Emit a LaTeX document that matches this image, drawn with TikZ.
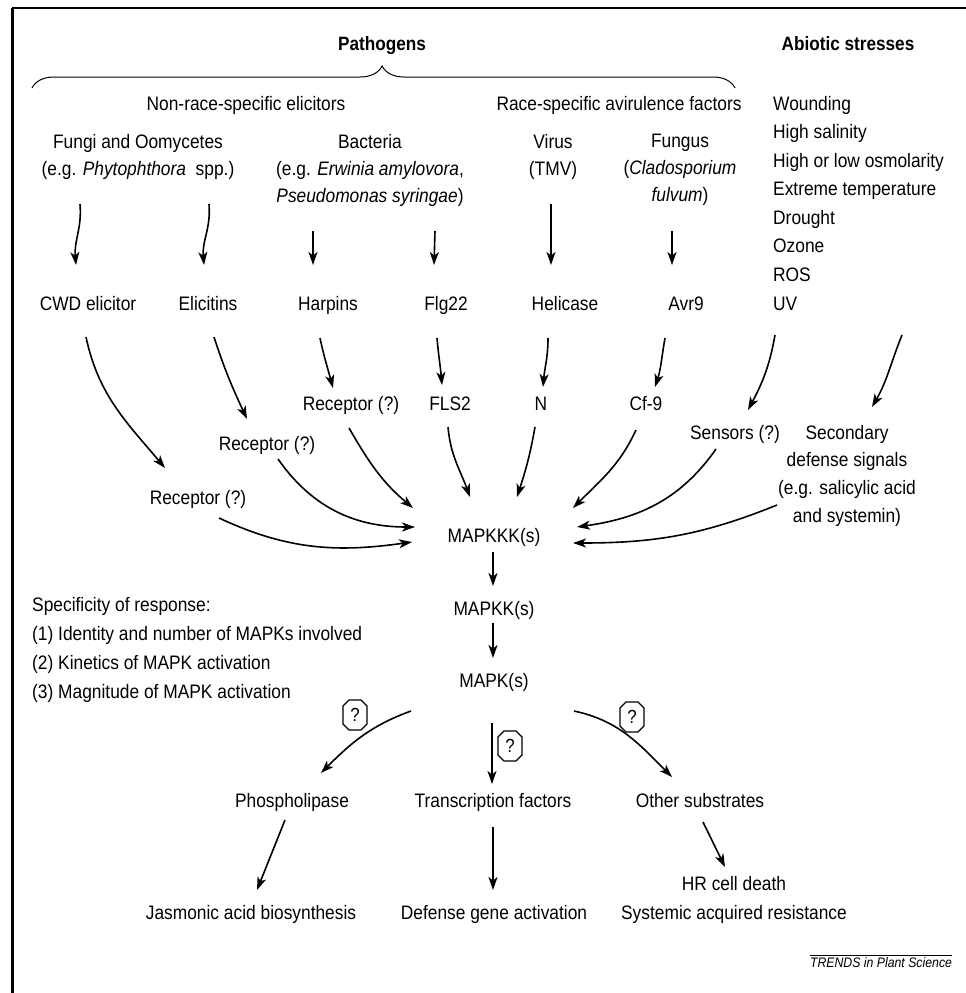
\documentclass[tikz,border=0pt]{standalone}
\usepackage{fontspec}
\setmainfont{Liberation Sans}[FakeStretch=0.89]
\usetikzlibrary{arrows.meta,calc,decorations.pathreplacing,shapes.misc}
\begin{document}
\begin{tikzpicture}[x=1pt,y=-1pt,
  one/.style={font=\fontsize{19.5}{22}\selectfont, inner sep=0pt, text height=14pt, text depth=0pt},
  multi/.style={font=\fontsize{19.5}{#1}\selectfont, inner sep=0pt, align=center, anchor=north},
  ttl/.style={font=\fontsize{19.3}{22}\selectfont\bfseries, inner sep=0pt, text height=14pt, text depth=0pt},
  arr/.style={line width=1.6pt, -{Stealth[length=13pt,width=9pt,inset=3.5pt]}},
  qm/.style={draw, chamfered rectangle, chamfered rectangle xsep=3pt, chamfered rectangle ysep=3pt, line width=1.2pt, minimum width=24pt, minimum height=30pt, inner sep=0pt, font=\fontsize{19}{19}\selectfont}
]
\useasboundingbox (0,0) rectangle (966,993);
% frame
\draw[line width=2pt] (966,8) -- (12,8);
\draw[line width=3pt] (12,8) -- (12,993);

% titles
\node[ttl] (path) at (382,43) {Pathogens};
\node[ttl] (abio) at (848,43) {Abiotic stresses};
\draw[line width=1pt, decorate, decoration={brace, amplitude=22pt, aspect=0.498}] (32,88) -- (735,88);

\node[one] (nonrace) at (246,103) {Non-race-specific elicitors};
\node[one] (race) at (619,103) {Race-specific avirulence factors};

% sources
\node[multi=27pt] (fungi) at (138,133.8) {Fungi and Oomycetes\\(e.g. \textit{Phytophthora}\ \ spp.)};
\node[multi=27pt] (bact) at (370,133.8) {Bacteria\\(e.g. \textit{Erwinia amylovora},\\\textit{Pseudomonas syringae})};
\node[multi=27pt] (virus) at (553,133.8) {Virus\\(TMV)};
\node[multi=27pt] (fungus) at (680,133.8) {Fungus\\(\textit{Cladosporium}\\\textit{fulvum})};
\node[multi=28.57pt, align=left, anchor=north west] (abl) at (773,95.8) {Wounding\\High salinity\\High or low osmolarity\\Extreme temperature\\Drought\\Ozone\\ROS\\UV};

% elicitors
\node[one] (cwd) at (88,303) {CWD elicitor};
\node[one] (elic) at (208,303) {Elicitins};
\node[one] (harp) at (328,303) {Harpins};
\node[one] (flg) at (446,303) {Flg22};
\node[one] (heli) at (565,303) {Helicase};
\node[one] (avr) at (686,303) {Avr9};

% receptors
\node[one] (rec3) at (351,403) {Receptor (?)};
\node[one] (fls) at (450,403) {FLS2};
\node[one] (nn) at (541,403) {N};
\node[one] (cf) at (646,403) {Cf-9};
\node[one] (rec2) at (267,443) {Receptor (?)};
\node[one] (rec1) at (198,497) {Receptor (?)};
\node[one] (sens) at (735,432) {Sensors (?)};
\node[multi=27.7pt] (sec) at (847,424.8) {Secondary\\defense signals\\(e.g. salicylic acid\\and systemin)};

% cascade
\node[one] (mk3) at (494,535) {MAPKKK(s)};
\node[one] (mk2) at (494,608) {MAPKK(s)};
\node[one] (mk1) at (494,680) {MAPK(s)};

\node[multi=29pt, align=left, anchor=north west] (spec) at (32,596.8) {Specificity of response:\\(1) Identity and number of MAPKs involved\\(2) Kinetics of MAPK activation\\(3) Magnitude of MAPK activation};

% targets
\node[one] (phos) at (292,800) {Phospholipase};
\node[one] (tf) at (493,800) {Transcription factors};
\node[one] (other) at (700,800) {Other substrates};
\node[one] (jas) at (251,912) {Jasmonic acid biosynthesis};
\node[one] (dga) at (494,912) {Defense gene activation};
\node[multi=29pt] (hr) at (734,875.8) {HR cell death\\Systemic acquired resistance};

\node[qm] (q1) at (355,715) {?};
\node[qm] (q2) at (510,746) {?};
\node[qm] (q3) at (632,717) {?};

% trends label
\node[inner sep=0pt, font=\fontsize{13.8}{15}\selectfont\itshape] (trends) at (881,963) {TRENDS in Plant Science};
\draw[line width=1.4pt] ($(trends.north west)+(0,-2)$) -- ($(trends.north east)+(0,-2)$);

% arrows: sources -> elicitors
\draw[arr] ($(fungi.north)+(-58,70.2)$) to[out=-85,in=95] ($(cwd)+(-12,-38)$);
\draw[arr] ($(fungi.north)+(71,70.2)$) to[out=-85,in=95] ($(elic)+(-4,-38)$);
\draw[arr] ($(bact.north)+(-57,97.2)$) -- ($(harp)+(-15,-38)$);
\draw[arr] ($(bact.north)+(65,97.2)$) -- ($(flg)+(-12,-38)$);
\draw[arr] ($(virus.north)+(-2,70.2)$) -- ($(heli)+(-14,-38)$);
\draw[arr] ($(fungus.north)+(-8,97.2)$) -- ($(avr)+(-14,-38)$);

% elicitors -> receptors
\draw[arr] ($(cwd)+(-2,34)$) to[out=-78,in=130] ($(rec1)+(-33,-29)$);
\draw[arr] ($(elic)+(6,34)$) to[out=-72,in=115] ($(rec2)+(-20,-24)$);
\draw[arr] ($(harp)+(-8,35)$) to[out=-78,in=105] ($(rec3)+(-18,-15)$);
\draw[arr] ($(flg)+(-9,35)$) to[out=-85,in=95] ($(fls)+(-8,-18)$);
\draw[arr] ($(heli)+(-17,35)$) to[out=-90,in=85] ($(nn)+(2,-16)$);
\draw[arr] ($(avr)+(-21,35)$) to[out=-100,in=72] ($(cf)+(9,-16)$);
\draw[arr] ($(abl.north west)+(2,239.2)$) to[out=-100,in=62] ($(sens)+(13,-22)$);
\draw[arr] ($(abl.north west)+(129,239.2)$) to[out=-112,in=60] ($(sec.north)+(25,-17.8)$);

% receptors -> MAPKKK
\draw[arr] ($(rec1)+(21,21)$) to[out=-25,in=188] ($(mk3)+(-82,7)$);
\draw[arr] ($(rec2)+(11,16)$) to[out=-55,in=180] ($(mk3)+(-79,-8)$);
\draw[arr] ($(rec3)+(-2,25)$) to[out=-60,in=140] ($(mk3)+(-81,-27)$);
\draw[arr] ($(fls)+(-2,24)$) to[out=-85,in=110] ($(mk3)+(-24,-38)$);
\draw[arr] ($(nn)+(-6,24)$) to[out=-100,in=72] ($(mk3)+(23,-38)$);
\draw[arr] ($(cf)+(-10,27)$) to[out=-115,in=45] ($(mk3)+(79,-27)$);
\draw[arr] ($(sens)+(-19,17)$) to[out=-125,in=8] ($(mk3)+(83,-8)$);
\draw[arr] ($(sec.north)+(-70,80.2)$) to[out=-158,in=0] ($(mk3)+(79,8)$);

% cascade
\draw[arr] ($(mk3)+(-1,17)$) -- ($(mk2)+(-1,-22)$);
\draw[arr] ($(mk2)+(-1,15)$) -- ($(mk1)+(-1,-22)$);

% MAPK -> targets
\draw[arr] ($(mk1)+(-83,31)$) to[out=200,in=45] ($(phos)+(29,-27)$);
\draw[arr] ($(mk1)+(-2,43)$) -- ($(tf)+(-1,-16)$);
\draw[arr] ($(mk1)+(80,31)$) to[out=-12,in=135] ($(other)+(-28,-23)$);

% targets -> outcomes
\draw[arr] ($(phos)+(-7,20)$) -- ($(jas)+(6,-22)$);
\draw[arr] ($(tf)+(0,27)$) -- ($(dga)+(-1,-22)$);
\draw[arr] ($(other)+(3,22)$) -- ($(hr.north)+(-9,-8.8)$);
\end{tikzpicture}
\end{document}
